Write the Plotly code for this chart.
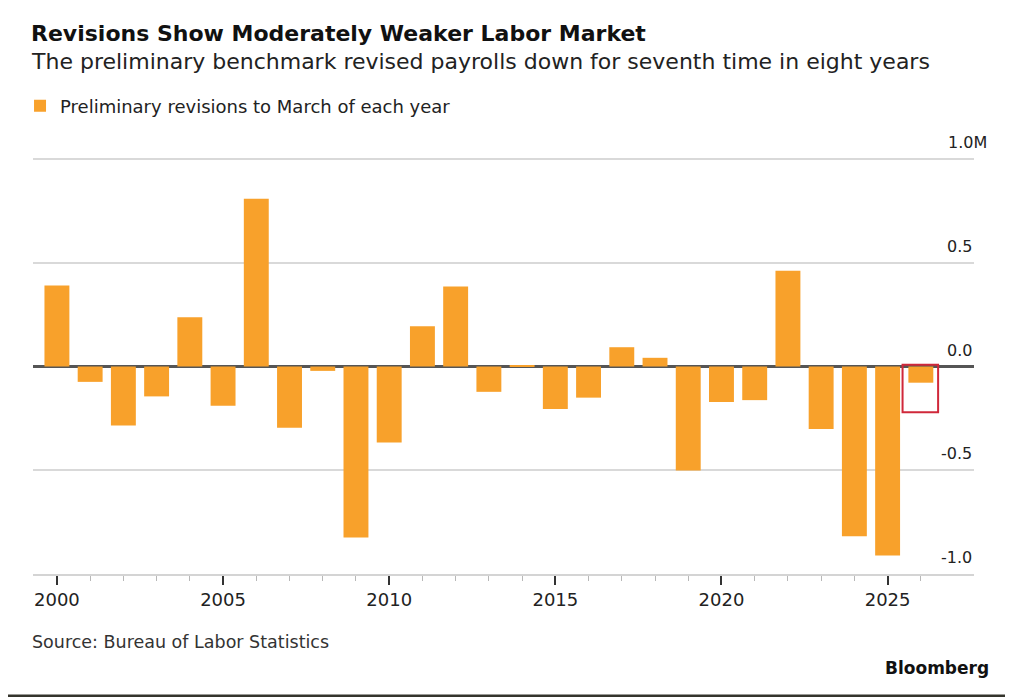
import plotly.graph_objects as go

# Preliminary benchmark revisions to March of each year (millions of jobs)
years = list(range(2000, 2027))
revisions = [0.39, -0.074, -0.284, -0.144, 0.237, -0.189, 0.809, -0.295, -0.021,
             -0.824, -0.366, 0.194, 0.386, -0.122, 0.007, -0.205, -0.150, 0.093,
             0.042, -0.501, -0.171, -0.162, 0.462, -0.301, -0.818, -0.911, -0.078]

x_tickvals = [2000, 2005, 2010, 2015, 2020, 2025]
y_tickvals = [1.0, 0.5, 0.0, -0.5, -1.0]
y_ticktext = ['1.0M', '0.5', '0.0', '-0.5', '-1.0']

title = 'Revisions Show Moderately Weaker Labor Market'
subtitle = 'The preliminary benchmark revised payrolls down for seventh time in eight years'
series_name = 'Preliminary revisions to March of each year'
source = 'Source: Bureau of Labor Statistics'

# page is 1013x697 but the figure div sits 8px in from the top-left (body margin)
PAGE_W, PAGE_H = 1013, 697
OFF = 8
W, H = PAGE_W - OFF, PAGE_H - OFF
# plot area in page pixels
X0, X1, Y0, Y1 = 31, 974, 158, 574
FONT = 'DejaVu Sans'
ORANGE = '#F8A12B'


def px(x):
    return (x - X0) / (X1 - X0)


def py(y):
    return (Y1 - y) / (Y1 - Y0)


fig = go.Figure()
fig.add_trace(go.Bar(x=years, y=revisions, name=series_name,
                     marker=dict(color=ORANGE, line_width=0), width=0.75,
                     showlegend=True))

annotations = [
    dict(text='<b>' + title + '</b>', x=px(27), y=py(33), font=dict(size=22, color='#111')),
    dict(text=subtitle, x=px(27), y=py(62), font=dict(size=22, color='#222')),
    dict(text=source, x=px(28), y=py(642), font=dict(size=17.5, color='#333')),
]
for a in annotations:
    a.update(xref='paper', yref='paper', xanchor='left', yanchor='middle', showarrow=False)

annotations.append(dict(text='<b>Bloomberg</b>', xref='paper', yref='paper', x=px(991), y=py(668),
                        xanchor='right', yanchor='middle', showarrow=False,
                        font=dict(size=17, color='#111')))

# y labels sit above the gridlines on the right
for v, t in zip(y_tickvals, y_ticktext):
    annotations.append(dict(text=t, xref='paper', yref='y', x=px(974), y=v,
                            xanchor='right', yanchor='bottom', yshift=5,
                            xshift=15 if t.endswith('M') else 0, showarrow=False,
                            font=dict(size=16, color='#222')))

shapes = [
    # highlight box around the latest bar
    dict(type='rect', xref='x', yref='y', x0=years[-1] - 0.55, x1=years[-1] + 0.52,
         y0=0.008, y1=-0.221, line=dict(color='#D0283A', width=2)),
    # dark frame of the screenshot (right and bottom edges)
    dict(type='line', xref='paper', yref='paper', x0=px(PAGE_W - 2), x1=px(PAGE_W - 2),
         y0=py(0), y1=py(PAGE_H), line=dict(color='#34342c', width=4)),
    dict(type='line', xref='paper', yref='paper', x0=px(0), x1=px(PAGE_W),
         y0=py(PAGE_H - 1), y1=py(PAGE_H - 1), line=dict(color='#34342c', width=3)),
]

fig.update_layout(
    width=W, height=H,
    margin=dict(l=X0 - OFF, r=W - (X1 - OFF), t=Y0 - OFF, b=H - (Y1 - OFF), pad=0),
    plot_bgcolor='white', paper_bgcolor='white',
    font=dict(family=FONT, color='#222'),
    annotations=annotations, shapes=shapes,
    showlegend=True,
    legend=dict(orientation='h', x=px(18), y=py(106), xanchor='left', yanchor='middle',
                font=dict(size=18, color='#222'), bgcolor='rgba(0,0,0,0)'),
    bargap=0.25,
)

fig.update_xaxes(range=[1999.28, 2027.6], tickvals=x_tickvals, ticks='outside', ticklen=9,
                 tickwidth=1.5, tickcolor='#333', showline=True, linecolor='#d4d4d4', linewidth=1.5,
                 showgrid=False, zeroline=False, tickfont=dict(size=18, color='#222'),
                 minor=dict(tickvals=years, ticks='outside', ticklen=5, tickwidth=1, tickcolor='#b8b8b8'))
fig.update_yaxes(range=[-1.0, 1.005], tickvals=y_tickvals, showticklabels=False,
                 showgrid=True, gridcolor='#d9d9d9', gridwidth=1.5,
                 zeroline=True, zerolinecolor='#555', zerolinewidth=2.5)

fig.write_html('out.html')
